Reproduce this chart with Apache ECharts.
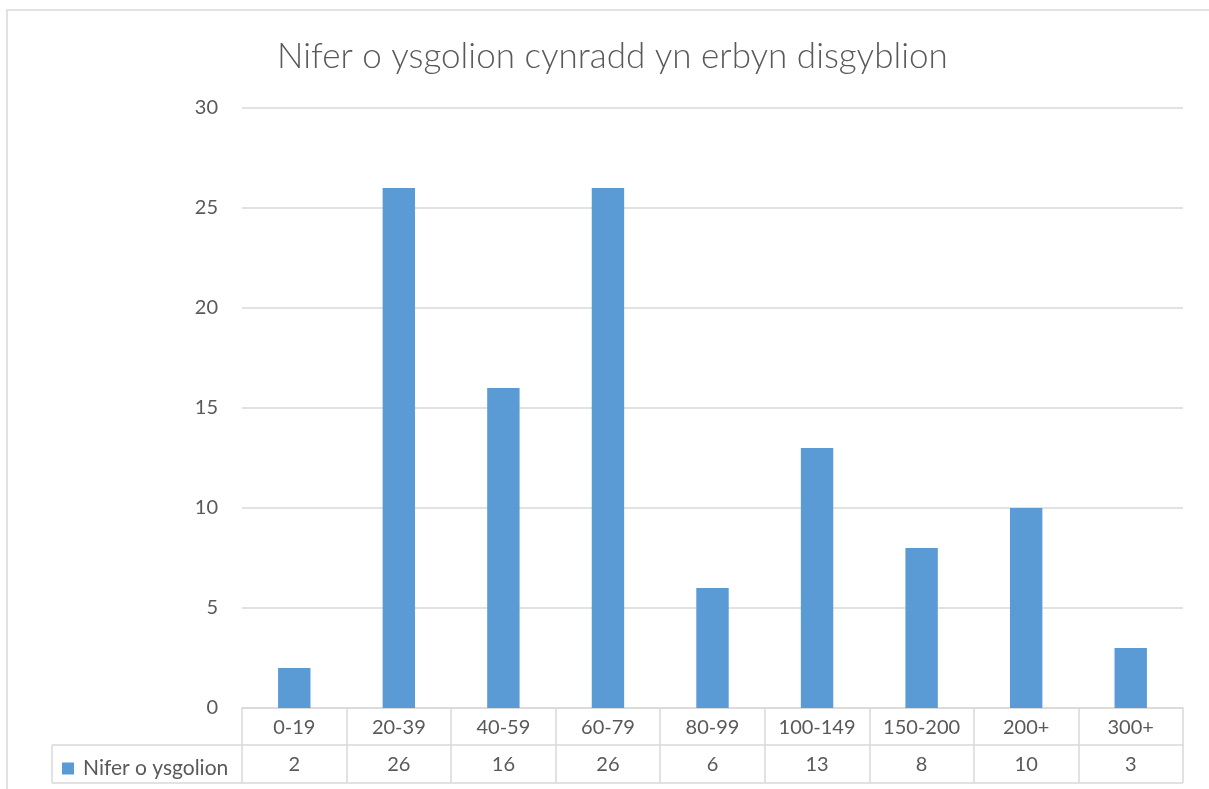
<!DOCTYPE html>
<html>
<head>
<meta charset="utf-8">
<script src="https://cdn.jsdelivr.net/npm/echarts@6/dist/echarts.min.js"></script>
<style>html,body{margin:0;padding:0;background:#fff;}#c{width:1209px;height:789px;}</style>
</head>
<body>
<div id="c"></div>
<script>
const title = 'Nifer o ysgolion cynradd yn erbyn disgyblion';
const seriesName = 'Nifer o ysgolion';
const categories = ['0-19','20-39','40-59','60-79','80-99','100-149','150-200','200+','300+'];
const values = [2, 26, 16, 26, 6, 13, 8, 10, 3];
const yTicks = [0, 5, 10, 15, 20, 25, 30];

const FONT = 'Lato, "Open Sans", sans-serif';
const TXT = '#595959';
const LINE = '#d9d9d9';
const G = {left: 242, right: 26, top: 108, bottom: 81};
const W = 1209, H = 789;
const plotBottom = H - G.bottom;
const row1 = 37, row2 = 38;
const tableLeft = 52;

const chart = echarts.init(document.getElementById('c'), null, {renderer: 'canvas'});
chart.setOption({
  animation: false,
  backgroundColor: '#fff',
  title: {
    text: title, left: 272, top: 34,
    textStyle: {fontFamily: FONT, fontSize: 35, fontWeight: 300, color: TXT}
  },
  legend: {
    data: [seriesName], left: 62, top: plotBottom + row1 + 13,
    icon: 'rect', itemWidth: 12, itemHeight: 12, itemGap: 0,
    textStyle: {fontFamily: FONT, fontSize: 21, color: TXT, padding: [0,0,0,4], letterSpacing: 0.7},
    padding: 0
  },
  grid: G,
  xAxis: [{
    type: 'category', data: categories, position: 'bottom',
    axisLine: {lineStyle: {color: LINE, width: 1.5}},
    axisTick: {show: true, length: row1 + row2, interval: 0, lineStyle: {color: LINE, width: 1.5}},
    axisLabel: {interval: 0, margin: 10, fontFamily: FONT, fontSize: 20, color: TXT}
  }, {
    type: 'category', data: values.map(String), position: 'bottom', offset: row1,
    axisLine: {lineStyle: {color: LINE, width: 1.5}},
    axisTick: {show: false},
    axisLabel: {interval: 0, margin: 10, fontFamily: FONT, fontSize: 20, color: TXT}
  }],
  yAxis: {
    type: 'value', min: yTicks[0], max: yTicks[yTicks.length-1], interval: yTicks[1]-yTicks[0],
    axisLine: {show: false}, axisTick: {show: false},
    splitLine: {lineStyle: {color: LINE, width: 1.5}},
    axisLabel: {margin: 24, fontFamily: FONT, fontSize: 20, color: TXT}
  },
  series: [{
    name: seriesName, type: 'bar', data: values, barWidth: '31%',
    itemStyle: {color: '#5B9BD5'}
  }],
  graphic: [
    {type: 'rect', shape: {x: 7, y: 10, width: W, height: H}, style: {fill: 'none', stroke: LINE, lineWidth: 1.5}, silent: true},
    {type: 'line', shape: {x1: tableLeft, y1: plotBottom + row1, x2: G.left, y2: plotBottom + row1}, style: {stroke: LINE, lineWidth: 1.5}},
    {type: 'line', shape: {x1: tableLeft, y1: plotBottom + row1 + row2, x2: W - G.right, y2: plotBottom + row1 + row2}, style: {stroke: LINE, lineWidth: 1.5}},
    {type: 'line', shape: {x1: tableLeft, y1: plotBottom + row1, x2: tableLeft, y2: plotBottom + row1 + row2}, style: {stroke: LINE, lineWidth: 1.5}}
  ]
});
</script>
</body>
</html>
